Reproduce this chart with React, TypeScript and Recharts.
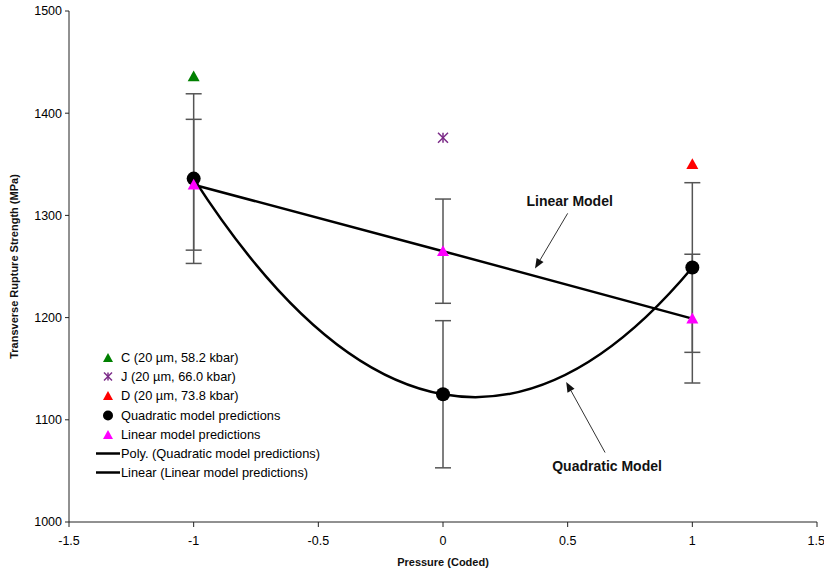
import React from 'react';
import {
  ComposedChart, Scatter, Line, XAxis, YAxis, ErrorBar, ReferenceLine, Label,
} from 'recharts';

const FONT = "Arial, 'Liberation Sans', sans-serif";

// coded pressure levels
const pressure = [-1, 0, 1];
// model predictions and their error half-widths (MPa)
const quadPred = [1336, 1125, 1249];
const quadErr = [83, 72, 83];
const linPred = [1330, 1265, 1199];
const linErr = [64, 51, 63];
// measured samples
const sampleC = [{ x: -1, y: 1436 }];
const sampleJ = [{ x: 0, y: 1376 }];
const sampleD = [{ x: 1, y: 1350 }];

const xTicks = [-1.5, -1, -0.5, 0, 0.5, 1, 1.5];
const yTicks = [1000, 1100, 1200, 1300, 1400, 1500];

// arrow annotations: tail -> head, in data units
const arrows = [
  { text: 'Linear Model', x1: 0.5, y1: 1302, x2: 0.369, y2: 1248, tx: 2, ty: -7 },
  { text: 'Quadratic Model', x1: 0.65, y1: 1068, x2: 0.494, y2: 1137, tx: 2, ty: 18 },
];

const quadData = pressure.map((x, i) => ({ x, y: quadPred[i], err: quadErr[i] }));
const linData = pressure.map((x, i) => ({ x, y: linPred[i], err: linErr[i] }));

// draws the parabola through three equally spaced points as one quadratic bezier
const parabolaCurve = (context: any) => {
  let pts: number[][] = [];
  return {
    areaStart() {},
    areaEnd() {},
    lineStart() { pts = []; },
    point(x: number, y: number) { pts.push([+x, +y]); },
    lineEnd() {
      if (!pts.length) return;
      const [p0, p1, p2] = pts;
      context.moveTo(p0[0], p0[1]);
      if (pts.length === 3) {
        const cx = 2 * p1[0] - (p0[0] + p2[0]) / 2;
        const cy = 2 * p1[1] - (p0[1] + p2[1]) / 2;
        context.quadraticCurveTo(cx, cy, p2[0], p2[1]);
      } else {
        pts.slice(1).forEach((p) => context.lineTo(p[0], p[1]));
      }
    },
  };
};

const Triangle = ({ cx, cy, fill, s = 6 }: any) => (
  <polygon points={`${cx},${cy - s} ${cx - s},${cy + s * 0.8} ${cx + s},${cy + s * 0.8}`} fill={fill} />
);

const Asterisk = ({ cx, cy, stroke = '#7b2a87', s = 5 }: any) => (
  <g stroke={stroke} strokeWidth={1.5}>
    <line x1={cx} y1={cy - s} x2={cx} y2={cy + s} />
    <line x1={cx - s} y1={cy - s} x2={cx + s} y2={cy + s} />
    <line x1={cx - s} y1={cy + s} x2={cx + s} y2={cy - s} />
  </g>
);

const Dot = ({ cx, cy }: any) => <circle cx={cx} cy={cy} r={7} fill="#000" />;

const Hidden = () => <g />;

const arrowShape = (a: any) => (p: any) => {
  const { x1, y1, x2, y2 } = p;
  const ang = Math.atan2(y2 - y1, x2 - x1);
  const len = 10;
  const w = 4;
  const bx = x2 - len * Math.cos(ang);
  const by = y2 - len * Math.sin(ang);
  const nx = -Math.sin(ang) * w;
  const ny = Math.cos(ang) * w;
  return (
    <g>
      <line x1={x1} y1={y1} x2={bx} y2={by} stroke="#333" strokeWidth={1} />
      <polygon points={`${x2},${y2} ${bx + nx},${by + ny} ${bx - nx},${by - ny}`} fill="#111" />
      <text x={x1 + a.tx} y={y1 + a.ty} textAnchor="middle" fontFamily={FONT} fontSize={14} fontWeight="bold" fill="#111">
        {a.text}
      </text>
    </g>
  );
};

const legendItems = [
  { label: 'C (20 µm, 58.2 kbar)', kind: 'tri', color: '#008000' },
  { label: 'J (20 µm, 66.0 kbar)', kind: 'star', color: '#7b2a87' },
  { label: 'D (20 µm, 73.8 kbar)', kind: 'tri', color: '#ff0000' },
  { label: 'Quadratic model predictions', kind: 'dot', color: '#000' },
  { label: 'Linear model predictions', kind: 'tri', color: '#ff00ff' },
  { label: 'Poly. (Quadratic model predictions)', kind: 'line', color: '#000' },
  { label: 'Linear (Linear model predictions)', kind: 'line', color: '#000' },
];

const LegendBox = () => (
  <div style={{ position: 'absolute', left: 95, top: 348, fontFamily: FONT, fontSize: 12.8, color: '#000' }}>
    {legendItems.map((it) => (
      <div key={it.label} style={{ display: 'flex', alignItems: 'center', height: 19.2 }}>
        <svg width={26} height={19} style={{ flex: 'none' }}>
          {it.kind === 'tri' && <Triangle cx={13} cy={10} fill={it.color} s={5} />}
          {it.kind === 'star' && <Asterisk cx={13} cy={9.5} stroke={it.color} s={4} />}
          {it.kind === 'dot' && <circle cx={13} cy={9.5} r={5} fill={it.color} />}
          {it.kind === 'line' && <line x1={1} y1={9.5} x2={25} y2={9.5} stroke={it.color} strokeWidth={2.5} />}
        </svg>
        <span style={{ whiteSpace: 'nowrap' }}>{it.label}</span>
      </div>
    ))}
  </div>
);

export default function App() {
  const tick = { fontSize: 12.5, fill: '#000', fontFamily: FONT };
  return (
    <div style={{ position: 'absolute', left: 0, top: 0, width: 824, height: 573, background: '#fff' }}>
      <ComposedChart width={824} height={573} margin={{ top: 11, right: 7, bottom: 0, left: 0 }}>
        <XAxis
          type="number"
          dataKey="x"
          domain={[-1.5, 1.5]}
          ticks={xTicks}
          height={51}
          tick={tick}
          tickSize={5}
          tickMargin={9}
          axisLine={{ stroke: '#222' }}
          tickLine={{ stroke: '#222' }}
        >
          <Label value="Pressure (Coded)" position="center" dy={15} fontFamily={FONT} fontSize={11} fontWeight="bold" fill="#111" />
        </XAxis>
        <YAxis
          type="number"
          domain={[1000, 1500]}
          ticks={yTicks}
          width={69}
          tick={tick}
          tickSize={4}
          tickMargin={3}
          axisLine={{ stroke: '#222' }}
          tickLine={{ stroke: '#222' }}
        >
          <Label value="Transverse Rupture Strength (MPa)" angle={-90} position="center" dx={-20} fontFamily={FONT} fontSize={11} fontWeight="bold" fill="#111" />
        </YAxis>

        {/* error bars for both model predictions */}
        <Scatter data={quadData} dataKey="y" shape={Hidden} isAnimationActive={false} legendType="none">
          <ErrorBar dataKey="err" direction="y" width={8} stroke="#555" strokeWidth={1.5} />
        </Scatter>
        <Scatter data={linData} dataKey="y" shape={Hidden} isAnimationActive={false} legendType="none">
          <ErrorBar dataKey="err" direction="y" width={8} stroke="#555" strokeWidth={1.5} />
        </Scatter>

        <Scatter data={sampleC} dataKey="y" shape={(p: any) => <Triangle {...p} fill="#008000" />} isAnimationActive={false} />
        <Scatter data={sampleJ} dataKey="y" shape={(p: any) => <Asterisk {...p} />} isAnimationActive={false} />
        <Scatter data={sampleD} dataKey="y" shape={(p: any) => <Triangle {...p} fill="#ff0000" />} isAnimationActive={false} />
        <Scatter data={quadData} dataKey="y" shape={Dot} isAnimationActive={false} />
        <Scatter data={linData} dataKey="y" shape={(p: any) => <Triangle {...p} fill="#ff00ff" />} isAnimationActive={false} />

        {/* trend lines */}
        <Line data={quadData} dataKey="y" type={parabolaCurve as any} stroke="#000" strokeWidth={2.5} dot={false} activeDot={false} isAnimationActive={false} />
        <Line data={linData} dataKey="y" type="linear" stroke="#000" strokeWidth={2.5} dot={false} activeDot={false} isAnimationActive={false} />

        {arrows.map((a) => (
          <ReferenceLine
            key={a.text}
            segment={[{ x: a.x1, y: a.y1 }, { x: a.x2, y: a.y2 }]}
            shape={arrowShape(a)}
            ifOverflow="visible"
          />
        ))}
      </ComposedChart>
      <LegendBox />
    </div>
  );
}
